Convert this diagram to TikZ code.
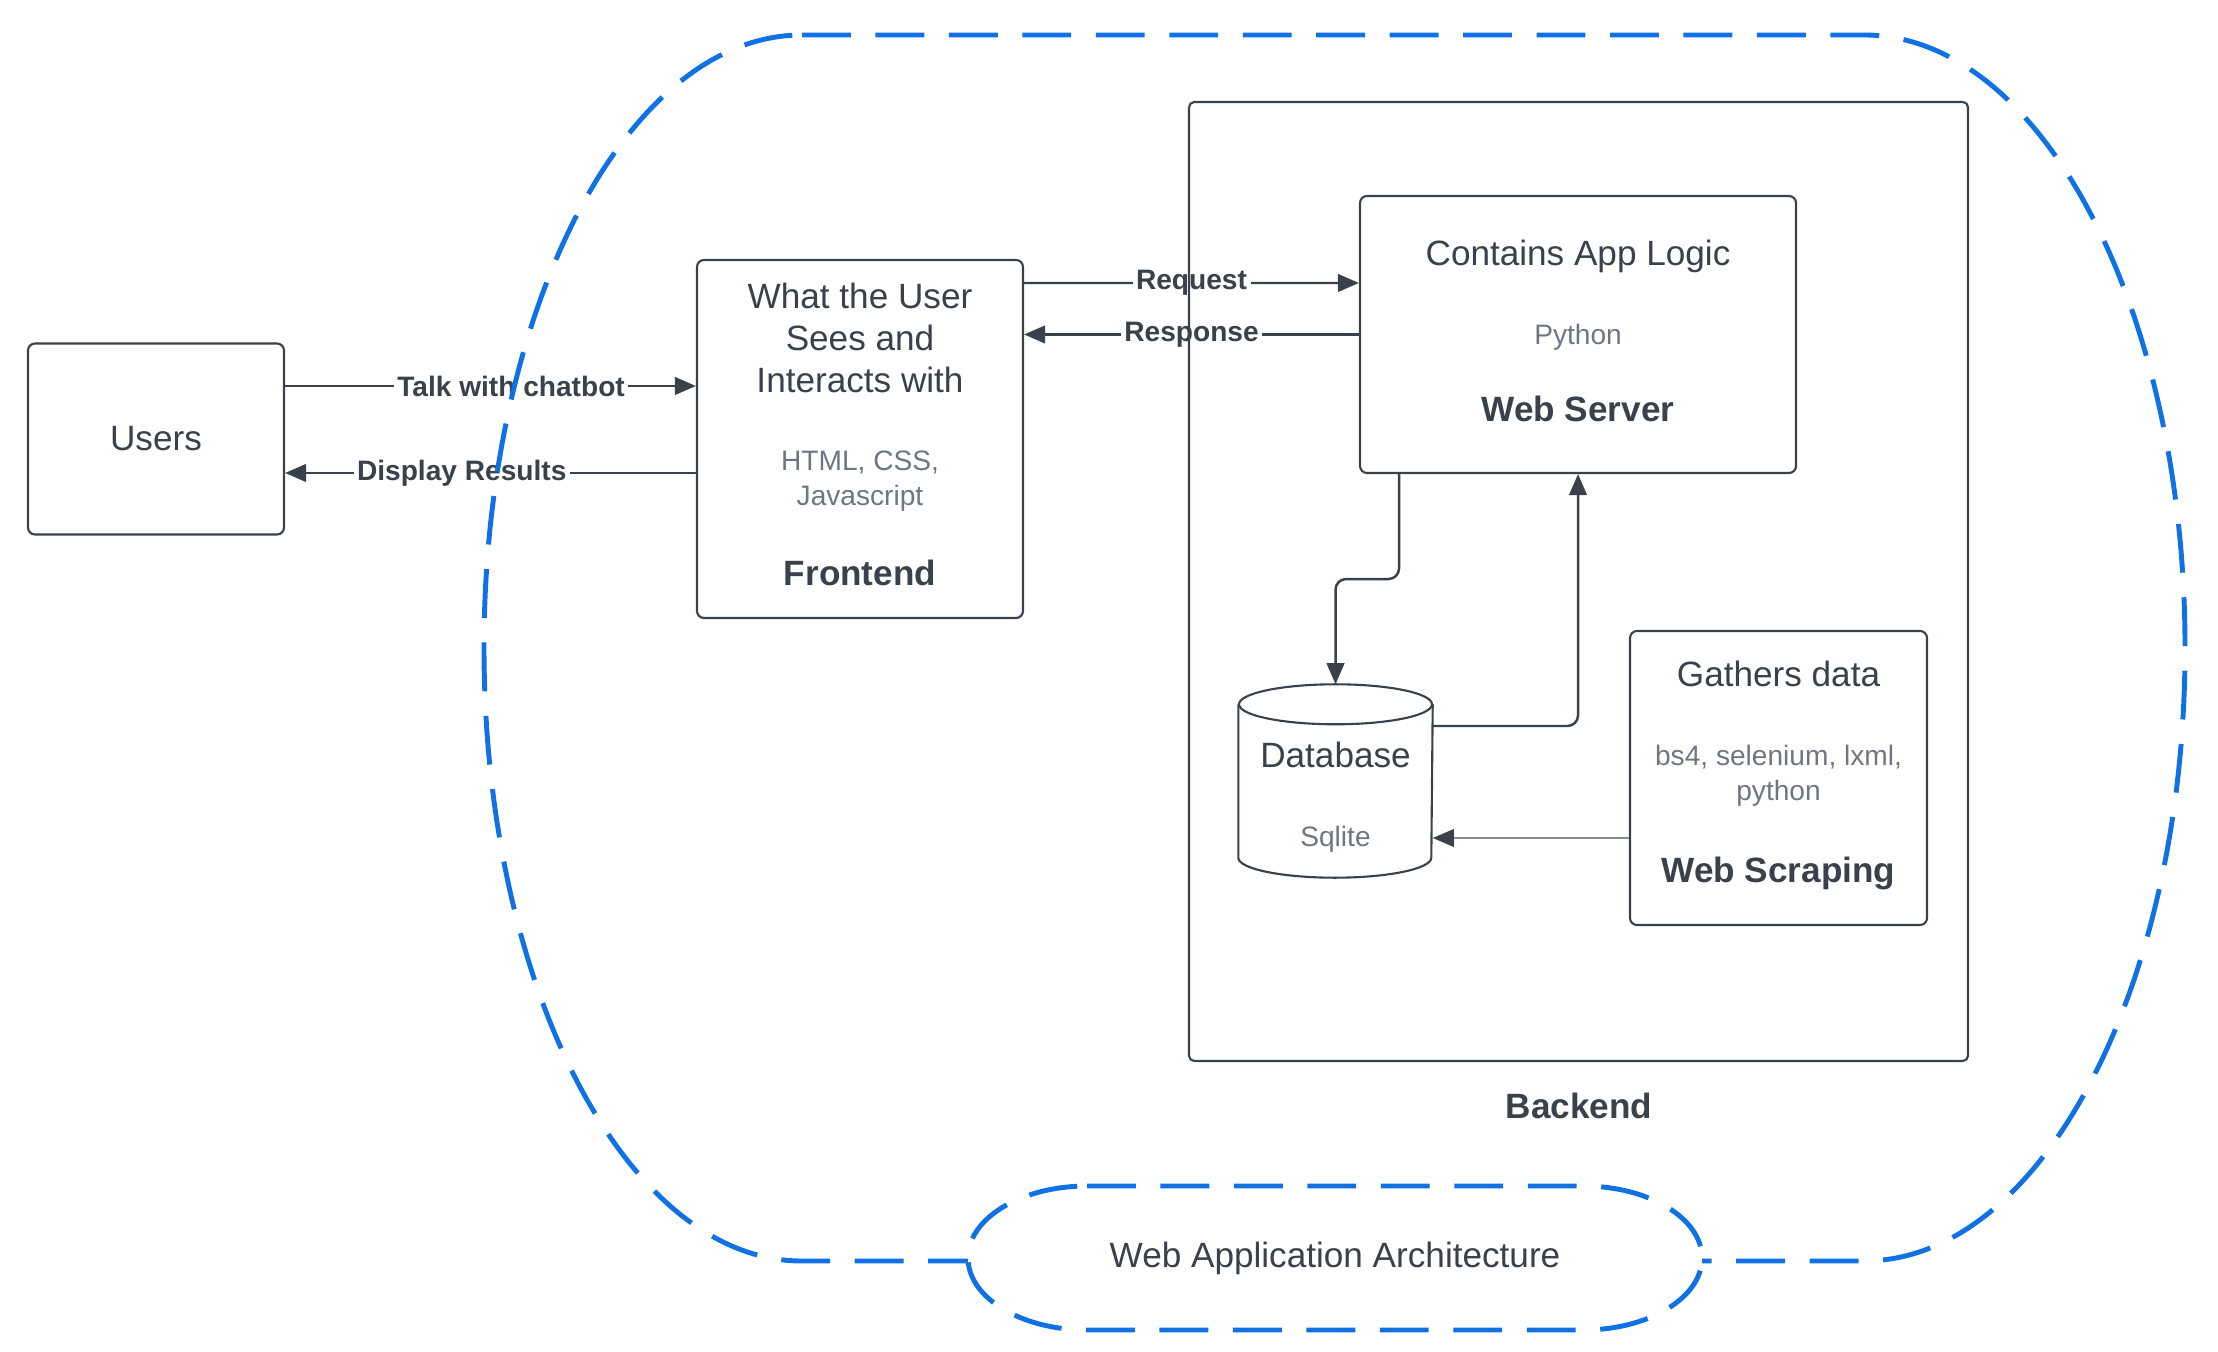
\documentclass[tikz,border=0pt]{standalone}
\usepackage{fontspec}
\setmainfont{Liberation Sans}
\usepackage{xcolor}
\definecolor{CInk}{HTML}{3A414A}
\definecolor{CSub}{HTML}{6F7681}
\definecolor{CZone}{HTML}{1071E5}
\usepackage{tikz}
\usetikzlibrary{arrows.meta}
\tikzstyle{boxNode}=[rectangle, rounded corners=2pt, draw=CInk, line width=0.6pt,
  inner sep=0pt, text=CInk, font=\fontsize{10}{12}\selectfont]
\tikzstyle{dbNode}=[rectangle, minimum width=1.93cm, minimum height=1.92cm, inner sep=0pt]
\tikzstyle{dbLine}=[draw=CInk, line width=0.6pt]
\tikzstyle{headText}=[text=CInk, font=\fontsize{10}{12}\selectfont, align=center, inner sep=0pt]
\tikzstyle{techText}=[text=CSub, font=\fontsize{8}{10}\selectfont, align=center, inner sep=0pt]
\tikzstyle{titleText}=[text=CInk, font=\fontsize{10}{12}\selectfont\bfseries, inner sep=0pt]
\tikzstyle{arrLabel}=[text=CInk, font=\fontsize{8}{10}\selectfont\bfseries, fill=white, inner sep=1pt]
\tikzstyle{arr}=[-{Triangle[length=6pt,width=5pt]}, line width=0.7pt, draw=CInk]
\tikzstyle{thinArr}=[-{Triangle[length=6pt,width=5pt,color=CInk]}, line width=0.5pt, draw=CInk!60]
\tikzstyle{zoneLine}=[draw=CZone, line width=1.4pt, dash pattern=on 13.9pt off 7pt]

\begin{document}
\begin{tikzpicture}
\useasboundingbox (0,0) rectangle (22.18,-13.52);

\node[boxNode, minimum width=2.56cm, minimum height=1.91cm] (users) at (1.56,-4.39) {Users};

\node[boxNode, minimum width=3.26cm, minimum height=3.58cm] (front) at (8.60,-4.39) {};
\node[headText] (frontHead) at (8.60,-3.38) {What the User\\Sees and\\Interacts with};
\node[techText] (frontTech) at (8.60,-4.81) {HTML, CSS,\\Javascript};
\node[titleText] (frontTitle) at (8.60,-5.73) {Frontend};

\node[boxNode, minimum width=4.36cm, minimum height=2.77cm] (ws) at (15.78,-3.345) {};
\node[headText] (wsHead) at (15.78,-2.56) {Contains App Logic};
\node[techText] (wsTech) at (15.78,-3.37) {Python};
\node[titleText] (wsTitle) at (15.78,-4.09) {Web Server};

\node[dbNode] (db) at (13.355,-7.81) {};
\draw[dbLine] ([yshift=-2mm]db.north west) -- ([yshift=2mm]db.south west)
  arc[start angle=180, end angle=360, x radius=0.965, y radius=0.2] -- ([yshift=-2mm]db.north east);
\draw[dbLine] ([yshift=-2mm]db.north) ellipse [x radius=0.965, y radius=0.2];
\node[headText] (dbHead) at (13.355,-7.55) {Database};
\node[techText] (dbTech) at (13.355,-8.39) {Sqlite};

\node[boxNode, minimum width=2.97cm, minimum height=2.94cm] (scrape) at (17.785,-7.78) {};
\node[headText] (scrapeHead) at (17.785,-6.74) {Gathers data};
\node[techText] (scrapeTech) at (17.785,-7.76) {bs4, selenium, lxml,\\python};
\node[titleText] (scrapeTitle) at (17.785,-8.73) {Web Scraping};

\draw[arr] ([yshift=5.3mm]users.east) -- node[arrLabel, pos=0.55] {Talk with chatbot} ([yshift=5.3mm]front.west);
\draw[arr] ([yshift=-3.4mm]front.west) -- node[arrLabel, pos=0.57] {Display Results} ([yshift=-3.4mm]users.east);
\draw[arr] ([yshift=15.6mm]front.east) -- node[arrLabel] {Request} ([yshift=5.15mm]ws.west);
\draw[arr] (ws.west) -- node[arrLabel] {Response} (ws.west -| front.east);
\draw[arr, rounded corners=3pt] ([xshift=-17.9mm]ws.south) -- ++(0,-1.05) -| (db.north);
\draw[arr, rounded corners=3pt] ([yshift=5.5mm]db.east) -| (ws.south);
\draw[thinArr] ([yshift=-6mm]scrape.west) -- ([yshift=-6mm]scrape.west -| db.east);

\node[boxNode, rounded corners=1.5pt, minimum width=7.79cm, minimum height=9.59cm] (backend) at (15.785,-5.815) {};
\node[titleText] (backendTitle) at (15.79,-11.06) {Backend};

\draw[zoneLine] (8.02,-0.35) -- (18.64,-0.35)
  arc[start angle=90, end angle=-90, x radius=3.21, y radius=6.13] -- (8.02,-12.61)
  arc[start angle=270, end angle=90, x radius=3.18, y radius=6.13] -- cycle;
\draw[zoneLine, fill=white] (10.87,-11.86) -- (15.83,-11.86)
  arc[start angle=90, end angle=-90, x radius=1.19, y radius=0.72] -- (10.87,-13.30)
  arc[start angle=270, end angle=90, x radius=1.19, y radius=0.72] -- cycle;
\node[headText] (archTitle) at (13.35,-12.58) {Web Application Architecture};
\end{tikzpicture}
\end{document}
